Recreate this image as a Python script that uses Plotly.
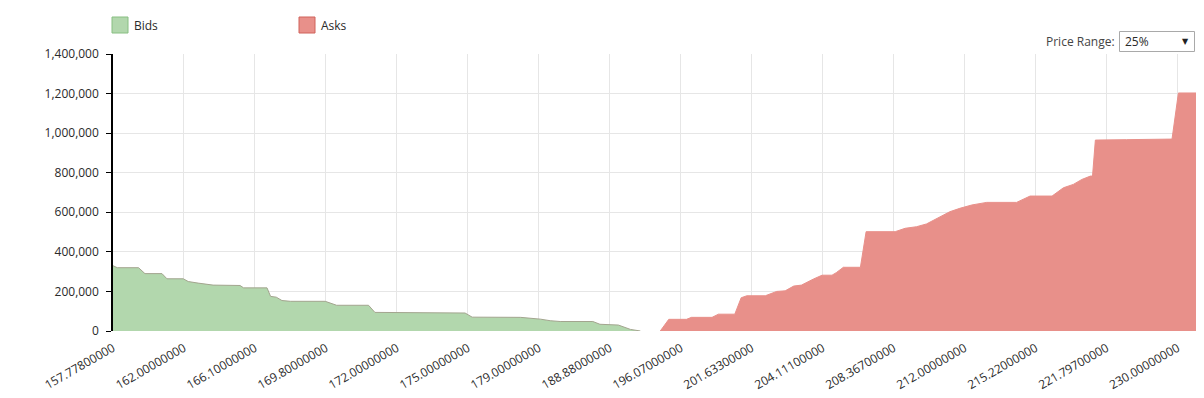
import plotly.graph_objects as go

# ---- data ----
tick_labels = ["157.77800000", "162.00000000", "166.10000000", "169.80000000",
               "172.00000000", "175.00000000", "179.00000000", "188.88000000",
               "196.07000000", "201.63300000", "204.11100000", "208.36700000",
               "212.00000000", "215.22000000", "221.79700000", "230.00000000"]
tick_levels = [0, 10, 20, 30, 40, 50, 60, 70, 80, 90, 100, 110, 120, 130, 140, 150]
n_levels = 153

bid_levels = [0.0, 0.6, 3.6, 4.5, 6.9, 7.6, 9.9, 10.6, 12.0, 14.1, 17.9, 18.4, 21.7, 22.2,
              23.0, 23.8, 25.0, 29.9, 31.5, 36.0, 36.9, 41.6, 49.6, 50.6, 57.4, 60.2,
              61.6, 63.0, 67.6, 68.6, 71.2, 72.9, 74.3]
bid_depth = [330000, 320000, 320000, 290000, 290000, 264000, 264000, 250000, 242000,
             232000, 230000, 218000, 218000, 175000, 171000, 154000, 150000, 150000,
             130000, 130000, 94000, 93000, 91000, 70000, 69000, 60000, 52000, 48000,
             48000, 34000, 30000, 8000, 0]

ask_levels = [77.1, 78.3, 80.8, 81.5, 84.4, 85.3, 87.6, 88.5, 89.3, 91.9, 93.5, 94.7,
              95.9, 97.0, 98.7, 99.9, 101.3, 101.9, 102.9, 105.3, 106.1, 110.2, 111.6,
              113.2, 114.6, 116.5, 117.9, 119.3, 121.0, 123.1, 127.3, 129.2, 132.3,
              133.9, 135.3, 136.5, 137.7, 138.0, 138.4, 142.8, 149.2, 150.1, 153.0]
ask_depth = [0, 59000, 59000, 69000, 69000, 85000, 85000, 168000, 178000, 178000,
             200000, 203000, 227000, 232000, 263000, 282000, 282000, 295000, 322000,
             322000, 502000, 502000, 519000, 527000, 541000, 578000, 603000, 620000,
             637000, 650000, 650000, 682000, 682000, 724000, 741000, 766000, 783000,
             783000, 965000, 967000, 970000, 1203000, 1203000]

y_ticks = [0, 200000, 400000, 600000, 800000, 1000000, 1200000, 1400000]

# ---- style ----
PAGE = 8  # default body margin of the page
W, H = 1204 - PAGE, 398 - PAGE
# plot-area edges in window pixels
L, R, T, B = 113, 1199, 54, 331
FONT = "Open Sans"
TXT = "#2a2a2a"
BID_FILL = "#b2d7ad"
BID_LINE = "#a3a58f"
BID_EDGE = "#88bf82"
ASK_FILL = "#e8908a"
ASK_EDGE = "#d0625b"
GRID = "#e6e6e6"


def px(x):
    return (x - L) / (R - L)


def py(y):
    return (B - y) / (B - T)


fig = go.Figure()
fig.add_trace(go.Scatter(x=bid_levels, y=bid_depth, mode="lines", fill="tozeroy",
                         fillcolor=BID_FILL, line=dict(color=BID_LINE, width=1),
                         name="Bids", hoverinfo="skip"))
fig.add_trace(go.Scatter(x=ask_levels, y=ask_depth, mode="lines", fill="tozeroy",
                         fillcolor=ASK_FILL, line=dict(color=ASK_FILL, width=1),
                         name="Asks", hoverinfo="skip"))

shapes = []
annotations = []
# legend
for (x0, label, fill, edge) in [(112, "Bids", BID_FILL, BID_EDGE), (299, "Asks", ASK_FILL, ASK_EDGE)]:
    shapes.append(dict(type="rect", xref="paper", yref="paper",
                       x0=px(x0), x1=px(x0 + 16), y0=py(33), y1=py(17),
                       fillcolor=fill, line=dict(color=edge, width=1)))
    annotations.append(dict(text=label, xref="paper", yref="paper", x=px(x0 + 20), y=py(25.5),
                            xanchor="left", yanchor="middle", showarrow=False,
                            font=dict(family=FONT, size=12, color=TXT)))
# price range control
annotations.append(dict(text="Price Range:", xref="paper", yref="paper", x=px(1117), y=py(41.5),
                        xanchor="right", yanchor="middle", showarrow=False,
                        font=dict(family=FONT, size=12, color="#444444")))
shapes.append(dict(type="rect", xref="paper", yref="paper",
                   x0=px(1119.5), x1=px(1194.5), y0=py(51.5), y1=py(31.5),
                   fillcolor="white", line=dict(color="#a9a9a9", width=1)))
annotations.append(dict(text="25%", xref="paper", yref="paper", x=px(1122.5), y=py(41.5),
                        xanchor="left", yanchor="middle", showarrow=False,
                        font=dict(family=FONT, size=12, color=TXT)))
annotations.append(dict(text="▼", xref="paper", yref="paper", x=px(1185), y=py(41),
                        xanchor="center", yanchor="middle", showarrow=False,
                        font=dict(family="DejaVu Sans", size=8, color="#222222")))

fig.update_layout(
    width=W, height=H,
    margin=dict(l=L - PAGE, r=(W + PAGE) - R, t=T - PAGE, b=(H + PAGE) - B, pad=0),
    paper_bgcolor="white", plot_bgcolor="white",
    showlegend=False,
    shapes=shapes, annotations=annotations,
    font=dict(family=FONT, size=11, color=TXT),
)
fig.update_xaxes(range=[0, n_levels], tickmode="array", tickvals=tick_levels,
                 ticktext=tick_labels, tickangle=-30, showgrid=True, gridcolor=GRID,
                 gridwidth=1, zeroline=False, showline=False, ticks="", automargin=False,
                 ticklabelstandoff=7,
                 tickfont=dict(family=FONT, size=12, color=TXT))
fig.update_yaxes(range=[0, 1400000], tickmode="array", tickvals=y_ticks,
                 tickformat=",", showgrid=True, gridcolor=GRID, gridwidth=1,
                 zeroline=False, showline=True, linecolor="#000000", linewidth=1.5,
                 ticks="outside", ticklen=5, tickcolor="#000000", tickwidth=1,
                 automargin=False, ticklabelstandoff=5,
                 tickfont=dict(family=FONT, size=12, color=TXT))

fig.write_html("out.html")
